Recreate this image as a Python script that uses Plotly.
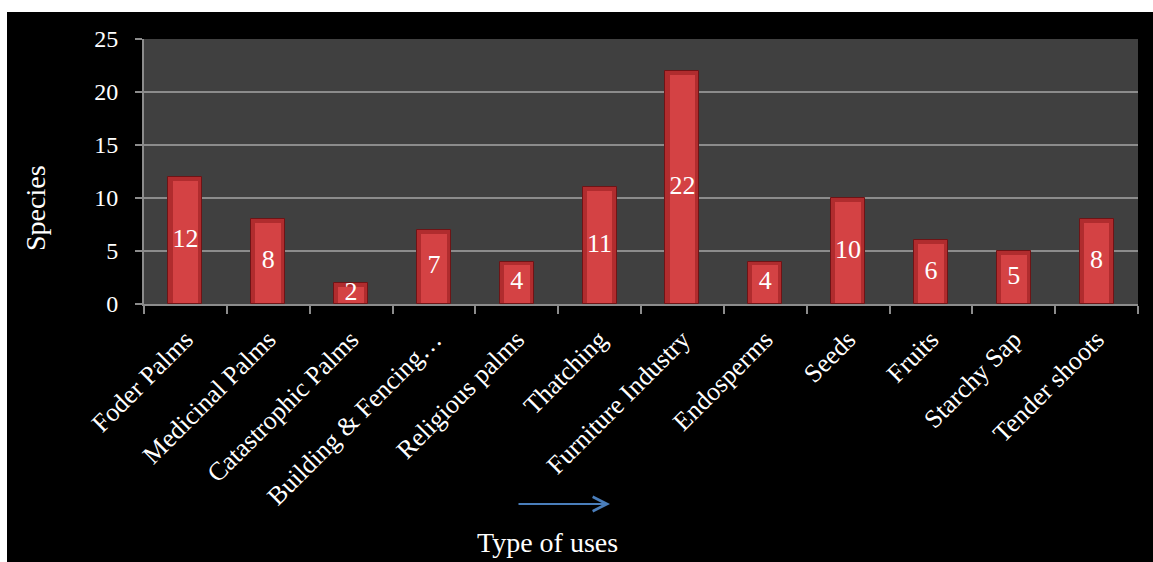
import plotly.graph_objects as go

categories = ["Foder Palms", "Medicinal Palms", "Catastrophic Palms", "Building & Fencing…",
              "Religious palms", "Thatching", "Furniture Industry", "Endosperms", "Seeds",
              "Fruits", "Starchy Sap", "Tender shoots"]
species = [12, 8, 2, 7, 4, 11, 22, 4, 10, 6, 5, 8]
y_ticks = [0, 5, 10, 15, 20, 25]
x_title = "Type of uses"
y_title = "Species"

W, H = 1153, 562
L, R, T, B = 144, 15, 39, 258
pw, ph = W - L - R, H - T - B
FONT = "Liberation Serif, Times New Roman, serif"

def px_x(p):
    return (p - L) / pw

def px_y(p):
    return (H - B - p) / ph

fig = go.Figure()
# outer (darker) bar
fig.add_trace(go.Bar(
    x=categories, y=species, width=0.41,
    marker=dict(color="#b02c2e", line=dict(color="#6e1416", width=1)),
    hoverinfo="skip", showlegend=False,
))
# inner (lighter) face
fig.add_trace(go.Bar(
    x=categories, y=[v - 0.45 for v in species], base=0.1, width=0.31,
    marker=dict(color="#d44244", line=dict(width=0)),
    hoverinfo="skip", showlegend=False,
))
# labels at bar centers
fig.add_trace(go.Scatter(
    x=categories, y=[v / 2 for v in species], mode="text",
    text=[str(v) for v in species],
    textfont=dict(family=FONT, size=26, color="white"),
    hoverinfo="skip", showlegend=False, cliponaxis=False,
))

fig.update_layout(
    width=W, height=H,
    margin=dict(l=L, r=R, t=T, b=B, pad=0),
    paper_bgcolor="black", plot_bgcolor="#404040",
    barmode="overlay", bargap=0,
    font=dict(family=FONT, color="white"),
    xaxis=dict(
        type="category", range=[-0.5, len(categories) - 0.5], autorange=False,
        tickangle=-45, tickson="boundaries",
        ticks="outside", ticklen=8, tickcolor="#8c8c8c", tickwidth=2,
        showline=True, linecolor="#8c8c8c", linewidth=2, mirror=False,
        showgrid=False, tickfont=dict(family=FONT, size=26, color="white"),
        ticklabelstandoff=8,
    ),
    yaxis=dict(
        range=[0, 25], tickvals=y_ticks, ticks="outside", ticklen=7,
        tickcolor="#8c8c8c", tickwidth=2,
        showline=True, linecolor="#8c8c8c", linewidth=2,
        showgrid=True, gridcolor="#8c8c8c", gridwidth=2, zeroline=False,
        tickfont=dict(family=FONT, size=24, color="white"),
        ticklabelstandoff=12,
    ),
    shapes=[
        dict(type="rect", xref="paper", yref="paper", x0=px_x(0), x1=px_x(7),
             y0=px_y(H), y1=px_y(0), fillcolor="white", line=dict(width=0), layer="above"),
        dict(type="rect", xref="paper", yref="paper", x0=px_x(0), x1=px_x(W),
             y0=px_y(12), y1=px_y(0), fillcolor="white", line=dict(width=0), layer="above"),
    ],
    annotations=[
        dict(text=x_title, xref="paper", yref="paper", x=px_x(547), y=px_y(542),
             showarrow=False, font=dict(family=FONT, size=28, color="white"),
             xanchor="center", yanchor="middle"),
        dict(text=y_title, xref="paper", yref="paper", x=px_x(35), y=px_y(208),
             showarrow=False, textangle=-90, font=dict(family=FONT, size=28, color="white"),
             xanchor="center", yanchor="middle"),
        dict(text="", xref="paper", yref="paper", x=px_x(610), y=px_y(504),
             ax=-93, ay=0, showarrow=True, arrowhead=5, arrowsize=1.4, arrowwidth=2,
             arrowcolor="#4a7ebb"),
    ],
)

fig.write_html("out.html")
